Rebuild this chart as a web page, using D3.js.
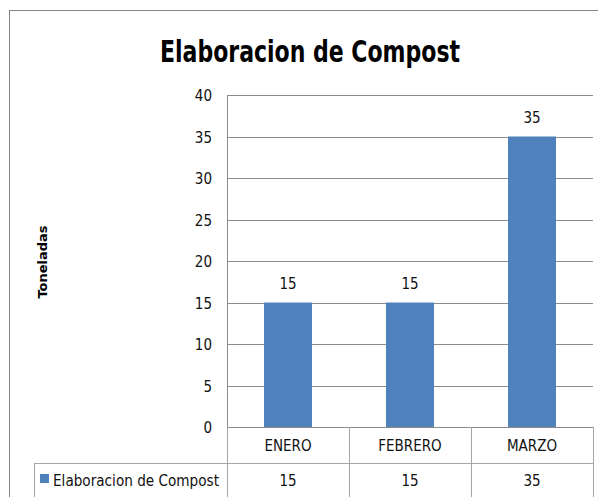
<!DOCTYPE html>
<html>
<head>
<meta charset="utf-8">
<script src="https://cdn.jsdelivr.net/npm/d3@7"></script>
<style>
  body { margin: 0; background: #fff; }
  text { font-family: "DejaVu Sans Condensed", "Open Sans", sans-serif; }
</style>
</head>
<body>
<div id="chart"></div>
<script>
const months = ['ENERO', 'FEBRERO', 'MARZO'];
const values = [15, 15, 35];
const seriesName = 'Elaboracion de Compost';
const yTicks = [0, 5, 10, 15, 20, 25, 30, 35, 40];

const width = 598;
const height = 497;
const plot = { left: 227, right: 593, top: 95, bottom: 427 };

const svg = d3.select('#chart')
  .append('svg')
  .attr('width', width)
  .attr('height', height);

// chart frame
svg.append('rect')
  .attr('x', 9.5).attr('y', 10.5)
  .attr('width', 620).attr('height', 520)
  .attr('fill', 'none')
  .attr('stroke', '#868686');

svg.append('text')
  .attr('x', 310)
  .attr('y', 62)
  .attr('text-anchor', 'middle')
  .attr('textLength', 300)
  .attr('lengthAdjust', 'spacingAndGlyphs')
  .style('font-size', '31px')
  .style('font-weight', 'bold')
  .text('Elaboracion de Compost');

const band = d3.scaleBand()
  .domain(months)
  .range([plot.left, plot.right]);

const y = d3.scaleLinear()
  .domain([0, 40])
  .range([plot.bottom, plot.top]);

// gridlines
svg.append('g')
  .selectAll('line')
  .data(yTicks)
  .enter()
  .append('line')
  .attr('x1', plot.left)
  .attr('x2', plot.right)
  .attr('y1', d => Math.round(y(d)) + 0.5)
  .attr('y2', d => Math.round(y(d)) + 0.5)
  .attr('stroke', '#8c8c8c');

svg.append('line')
  .attr('x1', plot.left + 0.5).attr('x2', plot.left + 0.5)
  .attr('y1', plot.top).attr('y2', plot.bottom)
  .attr('stroke', '#8c8c8c');

// y tick labels
svg.append('g')
  .selectAll('text')
  .data(yTicks)
  .enter()
  .append('text')
  .attr('x', 212)
  .attr('y', d => y(d) + 6)
  .attr('text-anchor', 'end')
  .style('font-size', '15px')
  .attr('fill', '#111')
  .text(d => d);

svg.append('text')
  .attr('transform', `translate(47, 262) rotate(-90)`)
  .attr('text-anchor', 'middle')
  .style('font-family', '"DejaVu Sans", sans-serif')
  .style('font-size', '13px')
  .style('font-weight', 'bold')
  .text('Toneladas');

// bars
svg.append('g')
  .selectAll('rect')
  .data(values)
  .enter()
  .append('rect')
  .attr('x', (d, i) => band(months[i]) + band.bandwidth() / 2 - 24)
  .attr('width', 48)
  .attr('y', d => y(d))
  .attr('height', d => plot.bottom - y(d))
  .attr('fill', '#4f81bd');

// data labels
svg.append('g')
  .selectAll('text')
  .data(values)
  .enter()
  .append('text')
  .attr('x', (d, i) => band(months[i]) + band.bandwidth() / 2)
  .attr('y', d => y(d) - 14)
  .attr('text-anchor', 'middle')
  .style('font-size', '15px')
  .attr('fill', '#111')
  .text(d => d);

// data table
const rowTop = plot.bottom;
const rowMid = 463;
const rowBot = 510;
const tableColor = '#a6a6a6';
const tbl = svg.append('g').attr('stroke', tableColor).attr('shape-rendering', 'crispEdges');

tbl.append('line').attr('x1', 34).attr('x2', plot.right).attr('y1', rowMid + 0.5).attr('y2', rowMid + 0.5);
tbl.append('line').attr('x1', 34.5).attr('x2', 34.5).attr('y1', rowMid).attr('y2', rowBot);
tbl.selectAll('line.col')
  .data(months.map(m => band(m)).concat([plot.right]))
  .enter()
  .append('line')
  .attr('class', 'col')
  .attr('x1', d => Math.round(d) + 0.5)
  .attr('x2', d => Math.round(d) + 0.5)
  .attr('y1', rowTop)
  .attr('y2', rowBot);

svg.append('g')
  .selectAll('text')
  .data(months)
  .enter()
  .append('text')
  .attr('x', d => band(d) + band.bandwidth() / 2)
  .attr('y', 451)
  .attr('text-anchor', 'middle')
  .style('font-size', '15px')
  .attr('fill', '#111')
  .text(d => d);

svg.append('g')
  .selectAll('text')
  .data(values)
  .enter()
  .append('text')
  .attr('x', (d, i) => band(months[i]) + band.bandwidth() / 2)
  .attr('y', 486)
  .attr('text-anchor', 'middle')
  .style('font-size', '15px')
  .attr('fill', '#111')
  .text(d => d);

svg.append('rect')
  .attr('x', 40).attr('y', 474)
  .attr('width', 9).attr('height', 9)
  .attr('fill', '#4f81bd');

svg.append('text')
  .attr('x', 53)
  .attr('y', 486)
  .attr('textLength', 166)
  .attr('lengthAdjust', 'spacingAndGlyphs')
  .style('font-size', '15px')
  .attr('fill', '#111')
  .text(seriesName);
</script>
</body>
</html>
